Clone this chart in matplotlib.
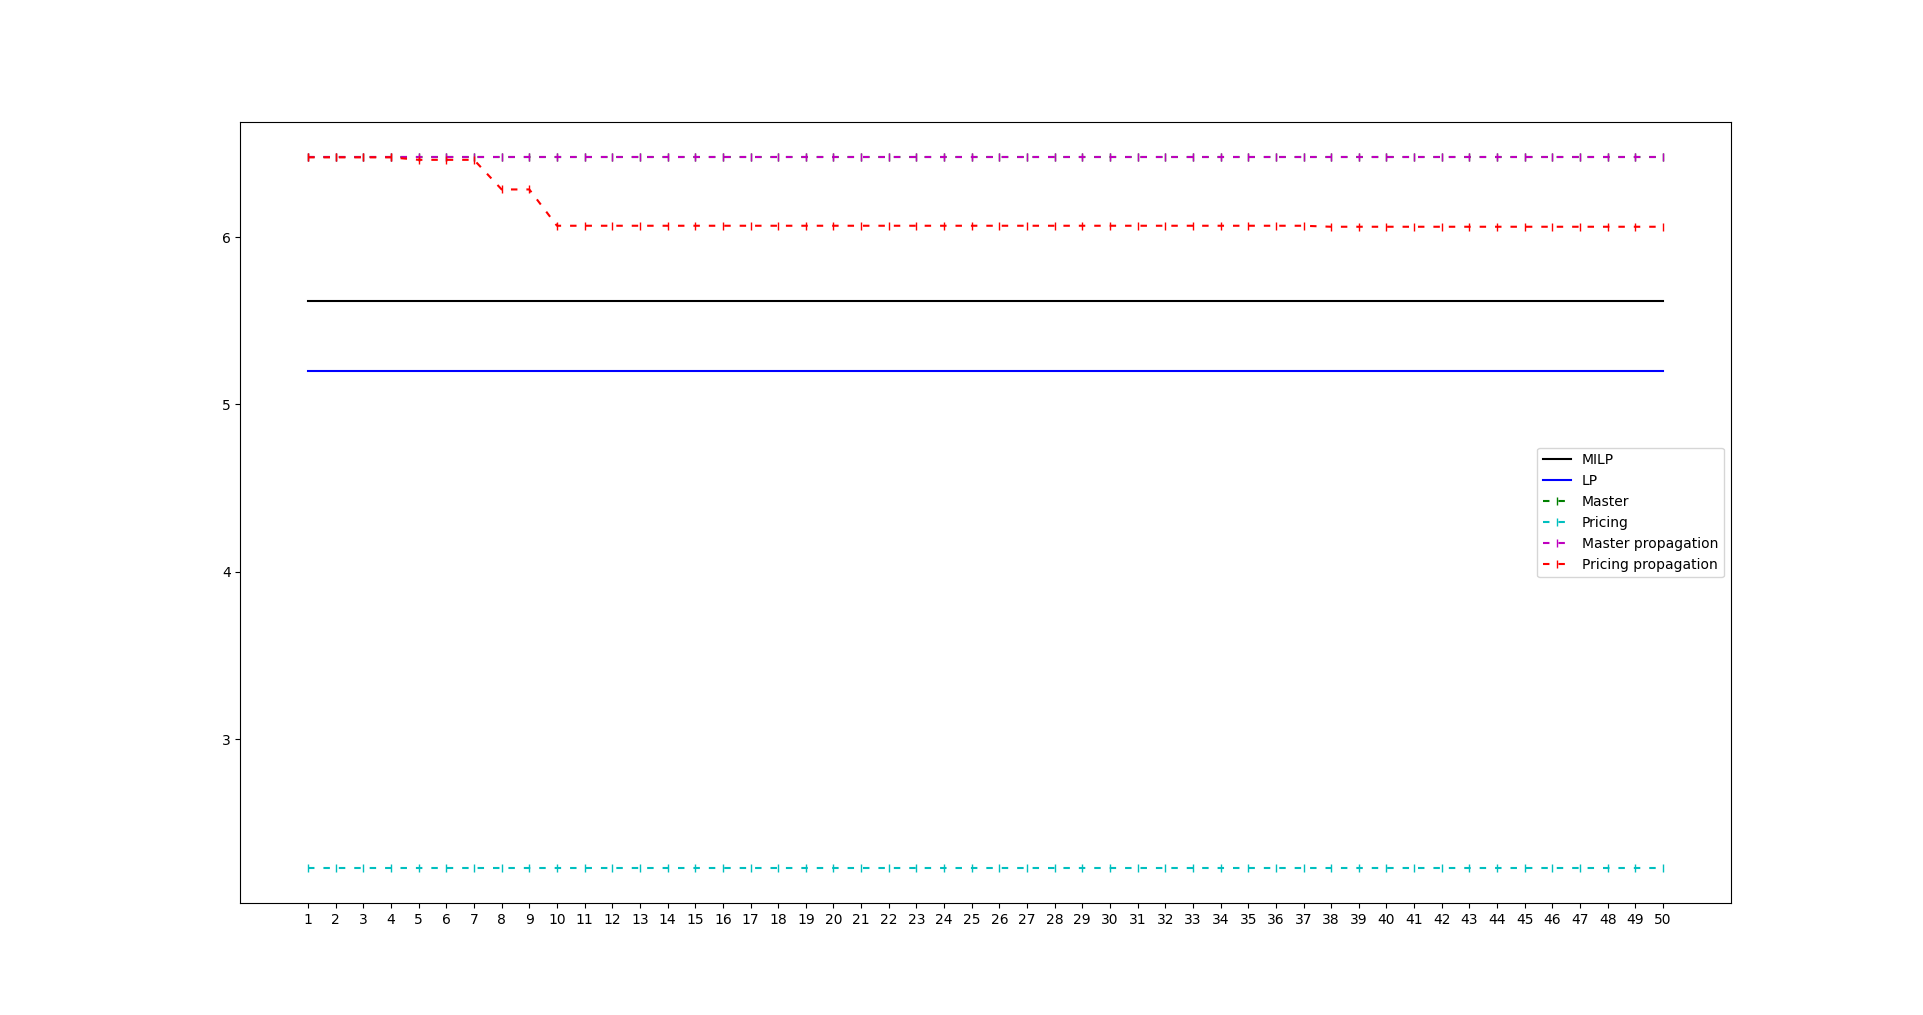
import numpy as np
import matplotlib
matplotlib.use("Agg")
import matplotlib.pyplot as plt

# iterations 1..50
iterations = list(range(1, 51))

milp_value = 5.62
lp_value = 5.20
master_value = 6.477
pricing_value = 2.23
master_prop_value = 6.477

pricing_prop = ([6.477] * 4 + [6.462] * 3 + [6.285] * 2
                + [6.068] * 28 + [6.062] * 13)


def main():
    fig = plt.figure(figsize=(19.23, 10.15), dpi=100)

    dash = (0, (3.1, 4.3))

    plt.plot(iterations, [milp_value] * len(iterations), "k-", label="MILP")
    plt.plot(iterations, [lp_value] * len(iterations), "b-", label="LP")
    plt.plot(iterations, [master_value] * len(iterations), color="g", linestyle=dash, marker="|", label="Master")
    plt.plot(iterations, [pricing_value] * len(iterations), color="c", linestyle=dash, marker="|", label="Pricing")
    plt.plot(iterations, [master_prop_value] * len(iterations), color="m", linestyle=dash, marker="|", label="Master propagation")
    plt.plot(iterations, pricing_prop, color="r", linestyle=dash, marker="|", label="Pricing propagation")

    plt.xticks(iterations)
    plt.yticks([3, 4, 5, 6])
    plt.legend(loc="center right")

    fig.savefig("out.png", dpi=100)


if __name__ == "__main__":
    main()
